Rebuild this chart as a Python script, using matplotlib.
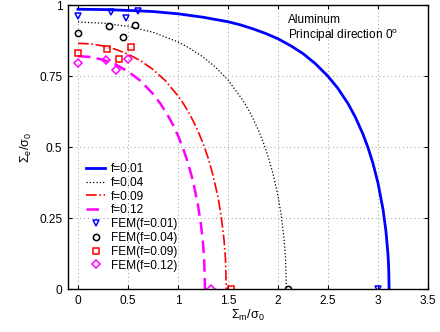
import matplotlib
matplotlib.use("Agg")
import matplotlib.pyplot as plt

plt.rcParams['font.family'] = ['Liberation Sans', 'DejaVu Sans']
plt.rcParams['mathtext.fontset'] = 'custom'
plt.rcParams['mathtext.rm'] = 'Liberation Sans'
plt.rcParams['mathtext.it'] = 'Liberation Sans'
plt.rcParams['mathtext.default'] = 'rm'

# ---- data ----
# model curves (Sigma_m / sigma_0, Sigma_e / sigma_0)
m_f001 = [0, 0.25, 0.5, 0.75, 1.0, 1.25, 1.5, 1.625, 1.75, 1.875, 2.0, 2.125, 2.25, 2.375, 2.5,
          2.6, 2.7, 2.775, 2.85, 2.9, 2.95, 3.0, 3.05, 3.08, 3.1, 3.105, 3.108, 3.111]
e_f001 = [0.985, 0.984, 0.981, 0.977, 0.969, 0.957, 0.941, 0.930, 0.916, 0.900, 0.881, 0.857, 0.829, 0.793, 0.749,
          0.706, 0.653, 0.604, 0.545, 0.498, 0.442, 0.373, 0.281, 0.202, 0.121, 0.089, 0.061, 0.0]

m_f004 = [0, 0.25, 0.5, 0.75, 1.0, 1.125, 1.25, 1.375, 1.5, 1.65, 1.725, 1.8, 1.85, 1.9, 1.95,
          2.0, 2.03, 2.06, 2.075, 2.084]
e_f004 = [0.940, 0.936, 0.925, 0.904, 0.870, 0.846, 0.817, 0.781, 0.736, 0.664, 0.618, 0.563, 0.519, 0.468, 0.406,
          0.327, 0.265, 0.178, 0.110, 0.0]

m_f009 = [0, 0.125, 0.25, 0.375, 0.5, 0.625, 0.75, 0.875, 1.0, 1.05, 1.1, 1.15, 1.2, 1.25, 1.3,
          1.35, 1.4, 1.43, 1.46, 1.475, 1.483]
e_f009 = [0.865, 0.863, 0.856, 0.844, 0.827, 0.804, 0.773, 0.733, 0.680, 0.655, 0.626, 0.593, 0.556, 0.513, 0.463,
          0.401, 0.323, 0.261, 0.174, 0.105, 0.0]

m_f012 = [0, 0.125, 0.25, 0.375, 0.5, 0.625, 0.75, 0.825, 0.9, 0.95, 1.0, 1.05, 1.1, 1.15, 1.2,
          1.23, 1.25, 1.262, 1.270]
e_f012 = [0.820, 0.817, 0.807, 0.791, 0.766, 0.733, 0.687, 0.652, 0.610, 0.578, 0.540, 0.496, 0.444, 0.380, 0.295,
          0.226, 0.161, 0.103, 0.0]

# FEM points
fem_m_001 = [0.0, 0.33, 0.475, 0.60, 3.0]
fem_e_001 = [0.961, 0.975, 0.953, 0.978, 0.0]
fem_m_004 = [0.0, 0.305, 0.446, 0.573, 2.095]
fem_e_004 = [0.903, 0.925, 0.887, 0.930, 0.0]
fem_m_009 = [0.0, 0.285, 0.406, 0.527, 1.53]
fem_e_009 = [0.830, 0.846, 0.809, 0.853, 0.0]
fem_m_012 = [0.0, 0.275, 0.382, 0.50, 1.334]
fem_e_012 = [0.797, 0.807, 0.770, 0.810, 0.0]

line_labels = ['f=0.01', 'f=0.04', 'f=0.09', 'f=0.12']
fem_labels = ['FEM(f=0.01)', 'FEM(f=0.04)', 'FEM(f=0.09)', 'FEM(f=0.12)']
xticks = [0, 0.5, 1, 1.5, 2, 2.5, 3, 3.5]
xticklabels = ['0', '0.5', '1', '1.5', '2', '2.5', '3', '3.5']
yticks = [0, 0.25, 0.5, 0.75, 1]
yticklabels = ['0', '0.25', '0.5', '0.75', '1']

FS = 8.6

fig = plt.figure(figsize=(4.4, 3.32), dpi=100)
ax = fig.add_axes([68/440, 1 - 289/332, 360/440, 284/332])

ax.plot(m_f001, e_f001, '-', color=(0, 0, 1), lw=2.0, label=line_labels[0])
ax.plot(m_f004, e_f004, ':', color='black', lw=0.9, label=line_labels[1])
ax.plot(m_f009, e_f009, '-.', color=(1, 0, 0), lw=1.2, label=line_labels[2])
ax.plot(m_f012, e_f012, '--', color=(1, 0, 1), lw=1.8, dashes=(5, 2.5), label=line_labels[3])

ax.plot(fem_m_001, fem_e_001, 'v', ls='none', mfc='none', mec=(0, 0, 1), ms=5, mew=1.1, label=fem_labels[0])
ax.plot(fem_m_004, fem_e_004, 'o', ls='none', mfc='none', mec='black', ms=4.5, mew=1.1, label=fem_labels[1])
ax.plot(fem_m_009, fem_e_009, 's', ls='none', mfc='none', mec=(1, 0, 0), ms=4, mew=1.1, label=fem_labels[2])
ax.plot(fem_m_012, fem_e_012, 'D', ls='none', mfc='none', mec=(1, 0, 1), ms=4, mew=1.1, label=fem_labels[3])

ax.set_xlim(-0.1, 3.5)
ax.set_ylim(0, 1)
ax.set_xticks(xticks)
ax.set_xticklabels(xticklabels)
ax.set_yticks(yticks)
ax.set_yticklabels(yticklabels)
ax.tick_params(direction='in', top=True, right=True, length=3, width=0.8, labelsize=FS, pad=4)
ax.grid(True, color=(0.6, 0.6, 0.6), linestyle=(0, (1, 3)), lw=0.7)
for s in ax.spines.values():
    s.set_linewidth(1.0)

ax.set_xlabel(r'$\Sigma_m/\sigma_0$', fontsize=FS + 0.5, labelpad=1)
ax.set_ylabel(r'$\Sigma_e/\sigma_0$', fontsize=FS + 0.5, labelpad=4)

ax.text(0.611, 0.947, 'Aluminum', transform=ax.transAxes, fontsize=FS, ha='left', va='center')
ax.text(0.611, 0.894, r'Principal direction 0$^{\rm o}$', transform=ax.transAxes, fontsize=FS, ha='left', va='center')

leg = ax.legend(loc='upper left', bbox_to_anchor=((86 - 68) / 360, (289 - 163) / 284),
                frameon=False, fontsize=FS, handlelength=1.6, handletextpad=0.5,
                labelspacing=0.15, borderpad=0, borderaxespad=0, numpoints=1)

fig.savefig('out.png', dpi=100)
